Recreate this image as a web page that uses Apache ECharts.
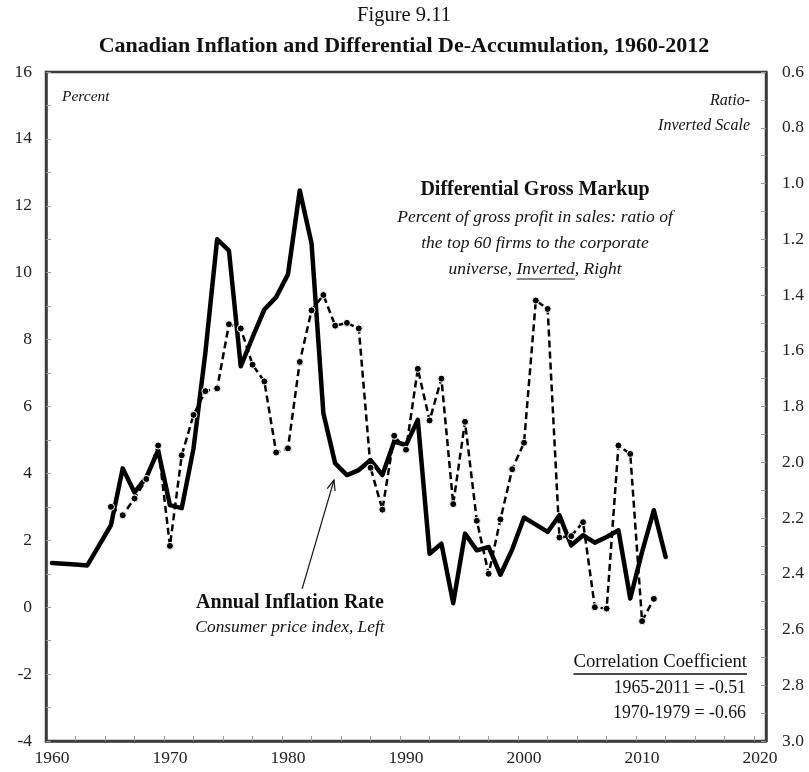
<!DOCTYPE html>
<html>
<head>
<meta charset="utf-8">
<script src="https://cdn.jsdelivr.net/npm/echarts@6/dist/echarts.min.js"></script>
<style>
  html, body { margin: 0; padding: 0; background: #fff; }
  #chart { width: 809px; height: 772px; }
</style>
</head>
<body>
<div id="chart"></div>
<script>
// Annual CPI inflation, Canada (percent, left axis)
const inflationYears = [
  1960, 1961, 1962, 1963, 1964, 1965, 1966, 1967, 1968, 1969,
  1970, 1971, 1972, 1973, 1974, 1975, 1976, 1977, 1978, 1979,
  1980, 1981, 1982, 1983, 1984, 1985, 1986, 1987, 1988, 1989,
  1990, 1991, 1992, 1993, 1994, 1995, 1996, 1997, 1998, 1999,
  2000, 2001, 2002, 2003, 2004, 2005, 2006, 2007, 2008, 2009,
  2010, 2011, 2012
];
const inflation = [
  1.32, 1.30, 1.28, 1.25, 1.85, 2.45, 4.15, 3.43, 3.88, 4.69,
  3.05, 2.96, 4.75, 7.60, 11.0, 10.66, 7.20, 8.07, 8.90, 9.27,
  9.95, 12.46, 10.87, 5.80, 4.30, 3.95, 4.10, 4.40, 3.95, 4.95,
  4.85, 5.60, 1.60, 1.90, 0.12, 2.20, 1.70, 1.80, 0.97, 1.73,
  2.68, 2.47, 2.25, 2.75, 1.85, 2.15, 1.93, 2.10, 2.30, 0.26,
  1.65, 2.90, 1.50
];

// Differential gross markup: top 60 firms / corporate universe (ratio, right axis, inverted)
const markupYears = [
  1965, 1966, 1967, 1968, 1969, 1970, 1971, 1972, 1973, 1974,
  1975, 1976, 1977, 1978, 1979, 1980, 1981, 1982, 1983, 1984,
  1985, 1986, 1987, 1988, 1989, 1990, 1991, 1992, 1993, 1994,
  1995, 1996, 1997, 1998, 1999, 2000, 2001, 2002, 2003, 2004,
  2005, 2006, 2007, 2008, 2009, 2010, 2011
];
const markup = [
  2.16, 2.19, 2.13, 2.06, 1.94, 2.30, 1.975, 1.83, 1.745, 1.735,
  1.505, 1.52, 1.65, 1.71, 1.965, 1.95, 1.64, 1.455, 1.40, 1.51,
  1.50, 1.52, 2.02, 2.17, 1.905, 1.955, 1.665, 1.85, 1.70, 2.15,
  1.855, 2.21, 2.40, 2.205, 2.025, 1.93, 1.42, 1.45, 2.27, 2.265,
  2.215, 2.52, 2.525, 1.94, 1.97, 2.57, 2.49
];

// Axis tick labels
const xLabelYears = [1960, 1970, 1980, 1990, 2000, 2010, 2020];
const leftTicks = { min: -4, max: 16, step: 2 };
const rightTicks = { min: 0.6, max: 3.0, step: 0.2 };

const SERIF = "'Liberation Serif', 'DejaVu Serif', serif";
const AXIS_COLOR = '#3c3c3c';
const TICK_COLOR = '#9a9a9a';

// minor x ticks every 2.5 years, starting at the left edge of the axis
const xMin = 1959.5, xMax = 2020.5;
const xTickMarks = [];
for (let t = xMin + 2.5; t < xMax; t += 2.5) xTickMarks.push(t);

const chart = echarts.init(document.getElementById('chart'), null, { renderer: 'canvas' });

const option = {
  animation: false,
  backgroundColor: '#fff',
  grid: {
    left: 46, right: 43, top: 72, bottom: 31,
    show: true, borderColor: AXIS_COLOR, borderWidth: 2.5, backgroundColor: 'transparent'
  },
  xAxis: {
    type: 'value',
    min: xMin, max: xMax,
    axisLine: { show: true, onZero: false, lineStyle: { color: AXIS_COLOR, width: 2.5 } },
    axisTick: { show: true, inside: true, length: 5, customValues: xTickMarks,
                lineStyle: { color: TICK_COLOR, width: 1 } },
    axisLabel: { show: true, customValues: xLabelYears, margin: 8,
                 formatter: v => String(v),
                 fontFamily: SERIF, fontSize: 17.5, color: '#222' },
    splitLine: { show: false }
  },
  yAxis: [
    {
      type: 'value', position: 'left',
      min: leftTicks.min, max: leftTicks.max, interval: leftTicks.step,
      axisLine: { show: true, onZero: false, lineStyle: { color: AXIS_COLOR, width: 2.5 } },
      axisTick: { show: true, inside: true, length: 5, lineStyle: { color: TICK_COLOR } },
      minorTick: { show: true, splitNumber: 2, length: 5, lineStyle: { color: TICK_COLOR } },
      axisLabel: { margin: 14, fontFamily: SERIF, fontSize: 17.5, color: '#222' },
      splitLine: { show: false }
    },
    {
      type: 'value', position: 'right', inverse: true,
      min: rightTicks.min, max: rightTicks.max, interval: rightTicks.step,
      axisLine: { show: true, onZero: false, lineStyle: { color: AXIS_COLOR, width: 2.5 } },
      axisTick: { show: true, inside: true, length: 5, lineStyle: { color: TICK_COLOR } },
      minorTick: { show: true, splitNumber: 2, length: 5, lineStyle: { color: TICK_COLOR } },
      axisLabel: { margin: 16, fontFamily: SERIF, fontSize: 17.5, color: '#222',
                   formatter: v => v.toFixed(1) },
      splitLine: { show: false }
    }
  ],
  series: [
    {
      name: 'Differential Gross Markup',
      type: 'line', yAxisIndex: 1,
      data: markupYears.map((y, i) => [y, markup[i]]),
      lineStyle: { color: '#000', width: 2.5, type: [7, 4] },
      symbol: 'circle', symbolSize: 7,
      itemStyle: { color: '#000', borderColor: '#fff', borderWidth: 1 },
      z: 3
    },
    {
      name: 'Annual Inflation Rate',
      type: 'line', yAxisIndex: 0,
      data: inflationYears.map((y, i) => [y, inflation[i]]),
      lineStyle: { color: '#000', width: 4.5, join: 'round', cap: 'round' },
      symbol: 'none',
      z: 2
    }
  ]
};
chart.setOption(option);

// ---- annotations ----
const ctx = document.createElement('canvas').getContext('2d');
function textWidth(str, font) { ctx.font = font; return ctx.measureText(str).width; }

function txt(str, x, y, size, opts = {}) {
  return {
    type: 'text', silent: true, z: 10,
    style: {
      text: str, x, y,
      font: `${opts.italic ? 'italic ' : ''}${opts.bold ? 'bold ' : ''}${size}px ${SERIF}`,
      fill: opts.color || '#111',
      textAlign: opts.align || 'center',
      textVerticalAlign: 'middle'
    }
  };
}
function hline(x1, x2, y, w) {
  return { type: 'line', silent: true, z: 10,
           shape: { x1, y1: y, x2, y2: y }, style: { stroke: '#111', lineWidth: w || 1 } };
}

const els = [];
els.push(txt('Figure 9.11', 404, 16, 20.5));
els.push(txt('Canadian Inflation and Differential De-Accumulation, 1960-2012', 404, 46, 22, { bold: true }));

els.push(txt('Percent', 62, 97, 15.5, { italic: true, align: 'left' }));
els.push(txt('Ratio-', 750, 101, 16, { italic: true, align: 'right' }));
els.push(txt('Inverted Scale', 750, 126, 16, { italic: true, align: 'right' }));

// markup label block
const cx = 535;
const ital = 17.5;
els.push(txt('Differential Gross Markup', cx, 190, 20, { bold: true }));
els.push(txt('Percent of gross profit in sales: ratio of', cx, 217, ital, { italic: true }));
els.push(txt('the top 60 firms to the corporate', cx, 243, ital, { italic: true }));
els.push(txt('universe, Inverted, Right', cx, 269, ital, { italic: true }));
{
  const f = `italic ${ital}px ${SERIF}`;
  const full = textWidth('universe, Inverted, Right', f);
  const pre = textWidth('universe, ', f);
  const word = textWidth('Inverted', f);
  const x0 = cx - full / 2 + pre;
  els.push(hline(x0, x0 + word, 279, 1));
}

// inflation label block
els.push(txt('Annual Inflation Rate', 290, 603, 20, { bold: true }));
els.push(txt('Consumer price index, Left', 290, 627, 17.4, { italic: true }));

// correlation block
{
  const f = `18.7px ${SERIF}`;
  els.push(txt('Correlation Coefficient', 747, 662, 18.7, { align: 'right' }));
  const w = textWidth('Correlation Coefficient', f);
  els.push(hline(747 - w, 747, 674, 1.6));
  els.push(txt('1965-2011 = -0.51', 746, 688, 17.8, { align: 'right' }));
  els.push(txt('1970-1979 = -0.66', 746, 713, 17.8, { align: 'right' }));
}

// arrow pointing at the inflation line
{
  const tail = chart.convertToPixel({ gridIndex: 0 }, [1981.2, 0.55]);
  const head = chart.convertToPixel({ gridIndex: 0 }, [1983.9, 3.8]);
  const ang = Math.atan2(head[1] - tail[1], head[0] - tail[0]);
  const L = 11, spread = 0.38;
  const a1 = [head[0] - L * Math.cos(ang - spread), head[1] - L * Math.sin(ang - spread)];
  const a2 = [head[0] - L * Math.cos(ang + spread), head[1] - L * Math.sin(ang + spread)];
  els.push({ type: 'line', silent: true, z: 10,
             shape: { x1: tail[0], y1: tail[1], x2: head[0], y2: head[1] },
             style: { stroke: '#111', lineWidth: 1.2 } });
  els.push({ type: 'polyline', silent: true, z: 10,
             shape: { points: [a1, head, a2] },
             style: { stroke: '#111', lineWidth: 1.2, fill: null } });
}

chart.setOption({ graphic: { elements: els } });
</script>
</body>
</html>
